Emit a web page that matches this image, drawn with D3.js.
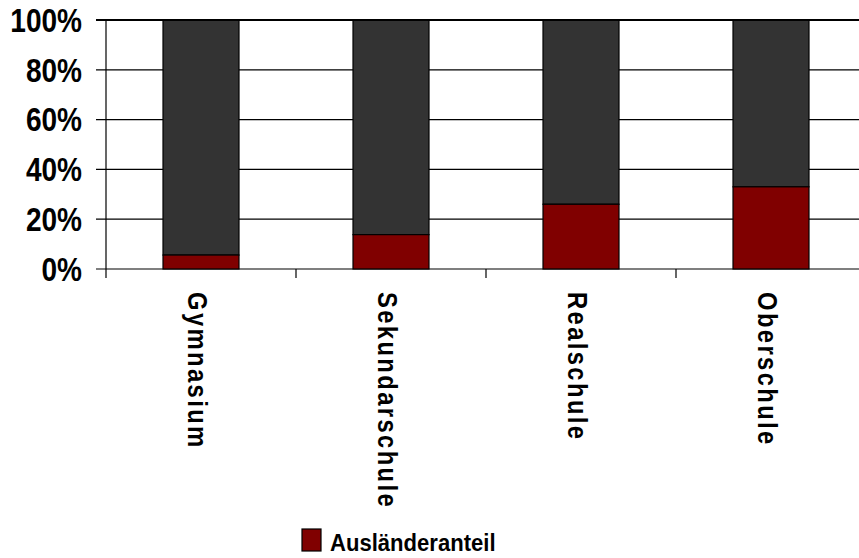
<!DOCTYPE html>
<html><head><meta charset="utf-8">
<script src="https://cdn.jsdelivr.net/npm/d3@7"></script>
<style>body{margin:0;background:#fff}svg{display:block}</style>
</head><body>
<script>
const categories = ["Gymnasium","Sekundarschule","Realschule","Oberschule"];
const auslaenderanteil = [5.6, 13.8, 26, 33];
const rest = auslaenderanteil.map(v => 100 - v);
const yTicks = [0,20,40,60,80,100];
const legendLabel = "Ausländeranteil";

const W = 859, H = 558;
const svg = d3.select("body").append("svg").attr("width", W).attr("height", H);
const font = "'Liberation Sans', Arial, sans-serif";

const x = d3.scaleBand().domain(categories).range([106, 866]).paddingInner(0.6).paddingOuter(0.3);
const y = d3.scaleLinear().domain([0,100]).range([269, 20]);

// gridlines
svg.append("g").selectAll("line").data(yTicks).join("line")
  .attr("x1", 96).attr("x2", W).attr("y1", d => y(d)).attr("y2", d => y(d))
  .attr("stroke", "#000").attr("stroke-width", d => d === 100 ? 2 : 1.2);

// y labels
svg.append("g").selectAll("text").data(yTicks).join("text")
  .attr("transform", d => `translate(82,${y(d)}) scale(0.85,1)`)
  .attr("text-anchor", "end").attr("dy", "0.36em")
  .attr("font-family", font).attr("font-weight", "bold").attr("font-size", 33)
  .text(d => d + "%");

// stacked bars
const stackData = categories.map((c,i) => ({cat:c, a:auslaenderanteil[i], r:rest[i]}));
const g = svg.append("g");
g.selectAll("rect.r").data(stackData).join("rect").attr("class","r")
  .attr("x", d => x(d.cat)).attr("width", x.bandwidth())
  .attr("y", d => y(d.a + d.r)).attr("height", d => y(d.a) - y(d.a + d.r))
  .attr("fill", "#333333").attr("stroke", "#000").attr("stroke-width", 1.2);
g.selectAll("rect.a").data(stackData).join("rect").attr("class","a")
  .attr("x", d => x(d.cat)).attr("width", x.bandwidth())
  .attr("y", d => y(d.a)).attr("height", d => y(0) - y(d.a))
  .attr("fill", "#800000").attr("stroke", "#000").attr("stroke-width", 1.2);

// redraw top line over bars
svg.append("line").attr("x1", 96).attr("x2", W).attr("y1", y(100)).attr("y2", y(100))
  .attr("stroke", "#000").attr("stroke-width", 2);

// y axis line
svg.append("line").attr("x1", 106).attr("x2", 106).attr("y1", y(100)).attr("y2", 278)
  .attr("stroke", "#000").attr("stroke-width", 1.2);

// x ticks between categories
const step = x.step();
const tickPos = d3.range(1, categories.length).map(i => x.range()[0] + i * step);
svg.append("g").selectAll("line").data(tickPos).join("line")
  .attr("x1", d => d).attr("x2", d => d).attr("y1", y(0)).attr("y2", 278)
  .attr("stroke", "#000").attr("stroke-width", 1.2);

// x labels rotated
svg.append("g").selectAll("text").data(categories).join("text")
  .attr("transform", d => `translate(${x(d) + x.bandwidth()/2 - 13.5},292) rotate(90) scale(0.85,1)`)
  .attr("font-family", font).attr("font-weight", "bold").attr("font-size", 28)
  .attr("letter-spacing", 2.8)
  .text(d => d);

// legend
svg.append("rect").attr("x", 302).attr("y", 529).attr("width", 19).attr("height", 22)
  .attr("fill", "#800000").attr("stroke", "#000").attr("stroke-width", 1.2);
svg.append("text").attr("transform", "translate(330,551) scale(0.92,1)")
  .attr("font-family", font).attr("font-weight", "bold").attr("font-size", 24)
  .text(legendLabel);
</script>
</body></html>
